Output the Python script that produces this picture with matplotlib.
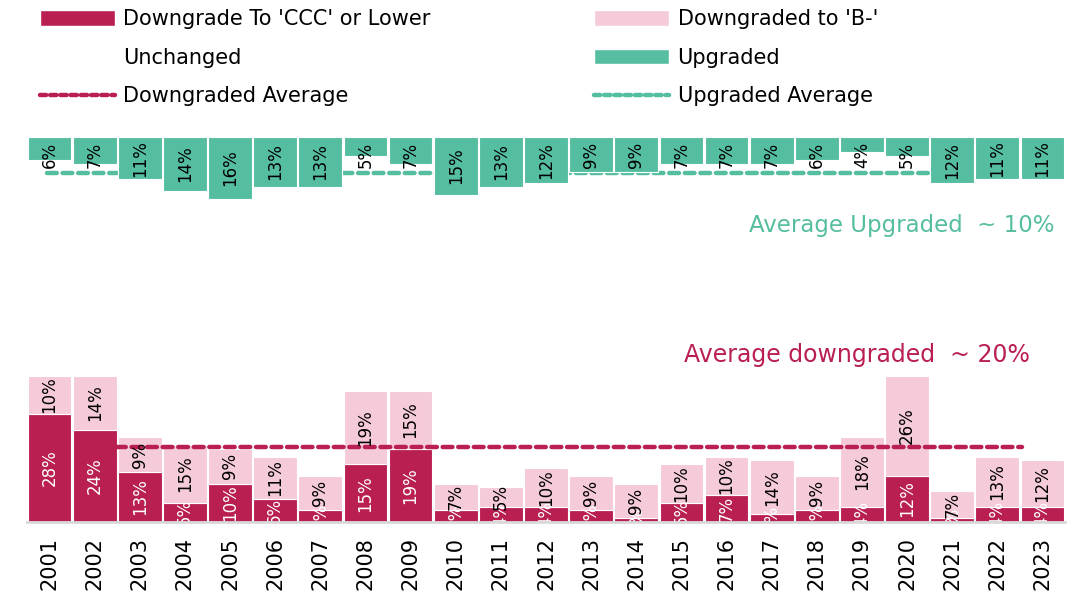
import matplotlib
matplotlib.use("Agg")
import matplotlib.pyplot as plt
import numpy as np
from matplotlib.patches import Patch
from matplotlib.lines import Line2D

years = [str(y) for y in range(2001, 2024)]
ccc = [28, 24, 13, 5, 10, 6, 3, 15, 19, 3, 4, 4, 3, 1, 5, 7, 2, 3, 4, 12, 1, 4, 4]
bminus = [10, 14, 9, 15, 9, 11, 9, 19, 15, 7, 5, 10, 9, 9, 10, 10, 14, 9, 18, 26, 7, 13, 12]
upgraded = [6, 7, 11, 14, 16, 13, 13, 5, 7, 15, 13, 12, 9, 9, 7, 7, 7, 6, 4, 5, 12, 11, 11]
down_avg = 19.5
up_avg = 9.4

C_CCC = "#B91F50"
C_BM = "#F6CBD9"
C_UP = "#55BDA0"

ccc_a = np.array(ccc, float)
bm_a = np.array(bminus, float)
up_a = np.array(upgraded, float)
unch = 100 - ccc_a - bm_a - up_a
x = np.arange(len(years))

fig = plt.figure(figsize=(10.76, 6), dpi=100)
ax = fig.add_axes([27/1076, 78/600, 1038/1076, 385/600])

w = 0.97
ax.bar(x, ccc_a, w, color=C_CCC, edgecolor="white", linewidth=0.8, zorder=2)
ax.bar(x, bm_a, w, bottom=ccc_a, color=C_BM, edgecolor="white", linewidth=0.8, zorder=2)
ax.bar(x, unch, w, bottom=ccc_a + bm_a, color="none", edgecolor="none", zorder=1)
ax.bar(x, up_a, w, bottom=100 - up_a, color=C_UP, edgecolor="white", linewidth=0.8, zorder=3)

# average lines
ax.plot([x[0] - 0.06, x[-2]], [100 - up_avg] * 2, color=C_UP, lw=3.2,
        dashes=(2.2, 1.3), dash_capstyle="round", zorder=2.5)
ax.plot([x[2] - 0.52, x[-1] - 0.45], [down_avg] * 2, color=C_CCC, lw=3.2,
        dashes=(2.2, 1.3), dash_capstyle="round", zorder=5)

lblfs = 12
for i in x:
    ax.text(i, ccc_a[i] / 2, f"{ccc[i]}%", rotation=90, ha="center", va="center",
            color="white", fontsize=lblfs, clip_on=True, zorder=6)
    ax.text(i, ccc_a[i] + bm_a[i] / 2, f"{bminus[i]}%", rotation=90, ha="center",
            va="center", color="black", fontsize=lblfs, clip_on=True, zorder=6)
    yc = 100 - max(up_a[i] / 2, 4.7)
    ax.text(i, yc, f"{upgraded[i]}%", rotation=90, ha="center", va="center",
            color="black", fontsize=lblfs, clip_on=True, zorder=6)

ax.text(0.99, 76.9, "Average Upgraded  ~ 10%", transform=ax.get_yaxis_transform(),
        ha="right", va="center", color=C_UP, fontsize=16.5)
ax.text(0.80, 43.4, "Average downgraded  ~ 20%", transform=ax.get_yaxis_transform(),
        ha="center", va="center", color=C_CCC, fontsize=17)

ax.set_xlim(-0.5, len(years) - 0.5)
ax.set_ylim(0, 100)
ax.set_xticks(x)
ax.set_xticklabels(years, rotation=90, fontsize=15)
ax.tick_params(axis="x", length=0, pad=11)
ax.set_yticks([])
for s in ["top", "left", "right"]:
    ax.spines[s].set_visible(False)
ax.spines["bottom"].set_color("#d9d9d9")
ax.spines["bottom"].set_linewidth(2)
ax.spines["bottom"].set_zorder(7)

handles = [
    Patch(facecolor=C_CCC, edgecolor="white"),
    Patch(facecolor="white", edgecolor="white"),
    Line2D([0], [0], color=C_CCC, lw=3.2, dashes=(1.4, 0.9), dash_capstyle="round"),
    Patch(facecolor=C_BM, edgecolor="white"),
    Patch(facecolor=C_UP, edgecolor="white"),
    Line2D([0], [0], color=C_UP, lw=3.2, dashes=(1.4, 0.9), dash_capstyle="round"),
]
labels = ["Downgrade To 'CCC' or Lower", "Unchanged", "Downgraded Average",
          "Downgraded to 'B-'", "Upgraded", "Upgraded Average"]
leg = fig.legend(handles, labels, ncol=2, loc="upper left", bbox_to_anchor=(40/1076, 1 - 9/600),
                 frameon=False, handlelength=3.6, handleheight=0.8, handletextpad=0.4,
                 columnspacing=7.85, labelspacing=0.9, borderpad=0, borderaxespad=0,
                 prop={"size": 15})

fig.savefig("out.png", dpi=100)
